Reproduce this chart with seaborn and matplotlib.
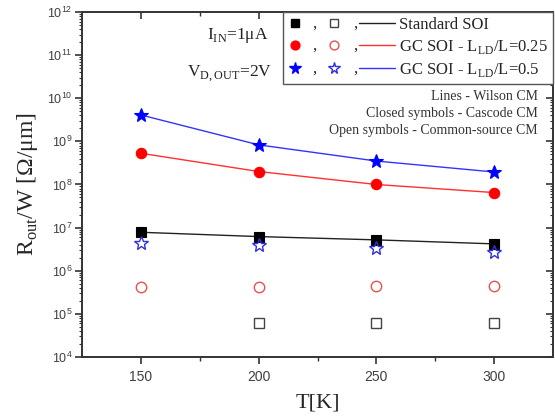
import numpy as np
import pandas as pd
import matplotlib
matplotlib.use("Agg")
import matplotlib.pyplot as plt
import seaborn as sns
from matplotlib.lines import Line2D
from matplotlib.text import Text
from matplotlib.legend_handler import HandlerBase
from matplotlib.ticker import LogLocator, FixedLocator, NullFormatter

# ---- data -------------------------------------------------------------
temperature = [150, 200, 250, 300]

std_cascode = [7.8e6, 6.2e6, 5.2e6, 4.2e6]
std_common_source = [np.nan, 6.0e4, 6.1e4, 6.1e4]

gc25_cascode = [5.3e8, 2.0e8, 1.0e8, 6.5e7]
gc25_common_source = [4.3e5, 4.3e5, 4.4e5, 4.4e5]

gc50_cascode = [4.1e9, 8.3e8, 3.5e8, 1.95e8]
gc50_common_source = [4.3e6, 4.0e6, 3.3e6, 2.7e6]

series_labels = ["Standard SOI",
                 "GC SOI - L$_{\\mathregular{LD}}$/L=0.25",
                 "GC SOI - L$_{\\mathregular{LD}}$/L=0.5"]

# ---- style ------------------------------------------------------------
sns.set_style("ticks")
plt.rcParams["font.family"] = ["Liberation Serif", "DejaVu Serif"]
plt.rcParams["mathtext.fontset"] = "custom"
plt.rcParams["mathtext.rm"] = "Liberation Serif"

SERIF = ["Liberation Serif", "DejaVu Serif"]
SANS = ["Liberation Sans", "DejaVu Sans"]

styles = [
    dict(color="#000000", line="#222222", open_edge="#444444", marker="s", ms=6.5, oms=6.5),
    dict(color="#ff0000", line="#ff3030", open_edge="#e85050", marker="o", ms=7.5, oms=7.5),
    dict(color="#0000ff", line="#3333ff", open_edge="#3030e0", marker="*", ms=10, oms=10),
]

rows = []
for name, closed, opened in zip(series_labels,
                                [std_cascode, gc25_cascode, gc50_cascode],
                                [std_common_source, gc25_common_source, gc50_common_source]):
    for t, c, o in zip(temperature, closed, opened):
        rows.append(dict(series=name, T=t, cascode=c, common_source=o))
df = pd.DataFrame(rows)

fig = plt.figure(figsize=(5.55, 4.19), dpi=100)
ax = fig.add_axes([82 / 555, 62 / 419, 471 / 555, 345 / 419])

for name, st in zip(series_labels, styles):
    sub = df[df["series"] == name]
    # Wilson CM line with cascode symbols
    sns.lineplot(data=sub, x="T", y="cascode", ax=ax, color=st["line"], lw=1.0,
                 marker=st["marker"], markersize=st["ms"], markerfacecolor=st["color"],
                 markeredgecolor=st["color"], markeredgewidth=0.8, legend=False,
                 estimator=None, sort=True)
    # common-source: open symbols
    sub_cs = sub.dropna(subset=["common_source"])
    ax.plot(sub_cs["T"], sub_cs["common_source"], ls="none", marker=st["marker"],
            markersize=st["oms"], markerfacecolor="none",
            markeredgecolor=st["open_edge"], markeredgewidth=1.0)

ax.set_yscale("log")
ax.set_xlim(125, 325)
ax.set_ylim(1e4, 1e12)
ax.set_xticks([150, 200, 250, 300])
ax.xaxis.set_minor_locator(FixedLocator([175, 225, 275]))
ax.yaxis.set_major_locator(LogLocator(base=10, numticks=20))
ax.yaxis.set_minor_locator(LogLocator(base=10, subs=np.arange(2, 10), numticks=20))
ax.yaxis.set_minor_formatter(NullFormatter())

for sp in ax.spines.values():
    sp.set_visible(True)
    sp.set_linewidth(1.4)
    sp.set_color("#333333")

ax.tick_params(which="both", top=True, right=True, color="#333333")
ax.tick_params(axis="x", which="major", direction="out", length=5, width=1.2,
               labelsize=10, labelcolor="#404040", pad=4)
ax.tick_params(axis="x", which="minor", direction="out", length=3, width=1.0)
ax.tick_params(axis="y", which="major", direction="out", length=5, width=1.2,
               labelsize=9, labelcolor="#404040", pad=2)
ax.tick_params(axis="y", which="minor", direction="out", length=2.5, width=0.8)
for lab in ax.get_xticklabels() + ax.get_yticklabels():
    lab.set_family(SANS)

# mirrored ticks on top/right point inward
for tl in ax.xaxis.get_major_ticks() + ax.xaxis.get_minor_ticks():
    tl.tick2line.set_marker(3)  # TICKDOWN
for tl in ax.yaxis.get_major_ticks() + ax.yaxis.get_minor_ticks():
    tl.tick2line.set_marker(0)  # TICKLEFT

ax.set_xlabel("T[K]", fontsize=16, family=SERIF, labelpad=7)
ax.set_ylabel("R$_{\\mathregular{out}}$/W [Ω/μm]", fontsize=17, family=SERIF, labelpad=5)

# ---- operating conditions ---------------------------------------------
ax.text(0.265, 0.922, "I$_{\\mathregular{IN}}$=1μA", transform=ax.transAxes,
        fontsize=12.5, family=SERIF, va="baseline", ha="left", color="#222222")
ax.text(0.223, 0.812, "V$_{\\mathregular{D,OUT}}$=2V", transform=ax.transAxes,
        fontsize=12.5, family=SERIF, va="baseline", ha="left", color="#222222")

notes = ["Lines - Wilson CM", "Closed symbols - Cascode CM", "Open symbols - Common-source CM"]
for i, txt in enumerate(notes):
    ax.text(0.968, (357 - (100 + 17 * i)) / 345, txt, transform=ax.transAxes,
            fontsize=10, family=SERIF, ha="right", va="baseline", color="#333333")


# ---- legend: closed symbol , open symbol , line ------------------------
class RowKey:
    def __init__(self, st):
        self.st = st


class RowHandler(HandlerBase):
    def create_artists(self, legend, orig_handle, xdescent, ydescent, width, height,
                       fontsize, trans):
        st = orig_handle.st
        y = height / 2 - ydescent
        x0 = -xdescent
        arts = []
        filled = Line2D([x0 + 0.06 * width], [y], ls="none", marker=st["marker"],
                        markersize=st["ms"] * 0.85, markerfacecolor=st["color"],
                        markeredgecolor=st["color"])
        opened = Line2D([x0 + 0.43 * width], [y], ls="none", marker=st["marker"],
                        markersize=st["oms"] * 0.85, markerfacecolor="none",
                        markeredgecolor=st["open_edge"], markeredgewidth=1.0)
        line = Line2D([x0 + 0.66 * width, x0 + width], [y, y], color=st["line"], lw=1.0)
        c1 = Text(x0 + 0.245 * width, y - 0.35 * height, ",", fontsize=fontsize,
                  family=SERIF, ha="center", va="baseline")
        c2 = Text(x0 + 0.625 * width, y - 0.35 * height, ",", fontsize=fontsize,
                  family=SERIF, ha="center", va="baseline")
        for a in (filled, opened, line, c1, c2):
            a.set_transform(trans)
            arts.append(a)
        return arts


keys = [RowKey(st) for st in styles]
leg = ax.legend(keys, series_labels, handler_map={RowKey: RowHandler()},
                loc="upper right", bbox_to_anchor=(1.0, 1.0), borderaxespad=0,
                prop=dict(family=SERIF, size=12), handlelength=6.4, handletextpad=0.25,
                labelspacing=0.3, borderpad=0.3, frameon=True, fancybox=False,
                edgecolor="#555555", framealpha=1)
leg.get_frame().set_linewidth(1.0)

fig.savefig("out.png", dpi=100)
